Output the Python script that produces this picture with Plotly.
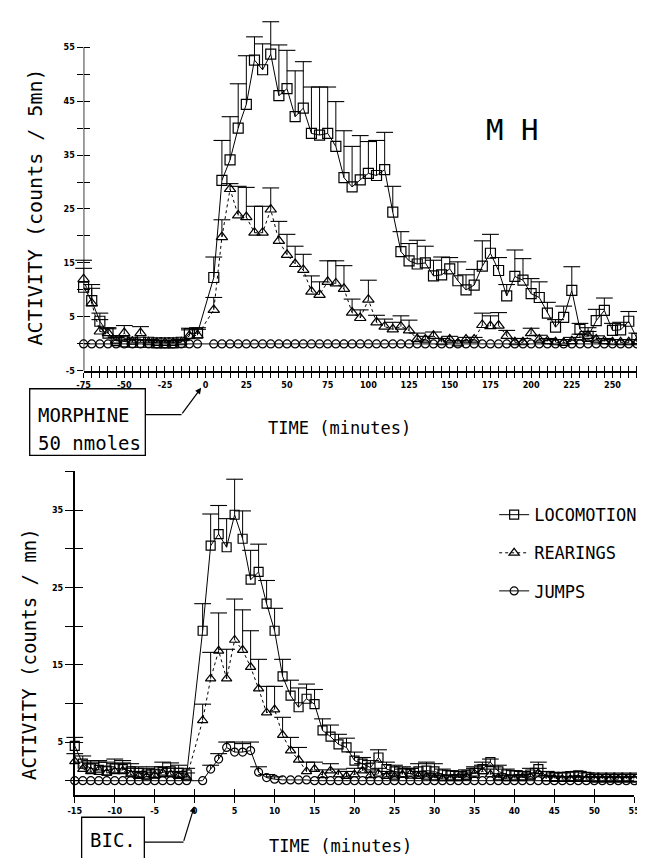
import numpy as np
import plotly.graph_objects as go

W, H = 645, 858
MONO = "DejaVu Sans Mono"
TICKFONT = dict(family="DejaVu Sans Condensed, DejaVu Sans", size=9, color="black", weight="bold")

# ---------------- upper panel: morphine 50 nmoles (counts / 5 mn) ----------------
top_time = [-75, -70, -65, -60, -55, -50, -45, -40, -35, -30, -25, -20, -15, -10, -5] + list(range(5, 275, 5))

top_loc = [10.5, 8.0, 4.2, 2.0, 0.6, 0.4, 0.3, 0.3, 0.3, 0.2, 0.2, 0.2, 0.3, 1.9, 2.0,
           12.3, 30.3, 34.1, 40.0, 44.4, 52.6, 50.8, 53.7, 46.0, 47.3,
           42.1, 43.7, 39.0, 38.7, 39.0, 36.6, 30.8, 29.1, 30.4, 31.6,
           31.2, 32.3, 24.4, 17.1, 15.4, 14.8, 15.0, 12.6, 12.8, 13.9,
           11.7, 10.0, 10.9, 14.4, 16.8, 13.6, 8.9, 12.5, 11.8, 9.3,
           8.6, 5.7, 3.1, 4.9, 9.9, 2.7, 1.4, 4.3, 6.2, 2.5,
           2.6, 4.2, 1.0, 0.5]
top_loc_upper = [14.0, 11.0, 5.7, 3.0, 1.3, 0.9, 0.8, 0.8, 0.8, 0.6, 0.6, 0.6, 0.8, 2.9, 3.0,
                 16.1, 37.7, 42.1, 48.2, 53.4, 56.9, 55.6, 59.7, 55.4, 54.4,
                 50.6, 52.3, 47.6, 47.6, 47.6, 44.9, 39.5, 36.6, 38.6, 37.5,
                 37.7, 39.2, 29.2, 20.8, 18.6, 19.2, 18.1, 15.5, 16.1, 16.0,
                 15.2, 12.8, 13.8, 19.1, 20.3, 16.0, 11.0, 17.4, 15.8, 12.1,
                 11.5, 7.7, 4.5, 7.0, 14.3, 3.8, 3.0, 6.4, 8.5, 3.8,
                 4.0, 6.0, 2.0, 1.5]
top_rear = [12.0, 7.5, 2.3, 2.0, 0.6, 2.0, 0.4, 2.0, 0.3, 0.2, 0.2, 0.2, 0.3, 1.5, 1.6,
            6.3, 19.8, 28.7, 23.8, 23.5, 20.6, 20.6, 24.9, 19.1, 16.5,
            14.8, 13.7, 9.7, 9.1, 11.5, 11.2, 10.2, 5.8, 4.8, 8.2,
            4.0, 3.2, 2.7, 3.2, 2.5, 0.9, 0.8, 1.5, 0.3, 0.8,
            0.1, 0.8, 0.8, 3.5, 3.3, 3.4, 1.5, 0.3, 0.3, 2.0,
            0.8, 0.5, 0.3, 0.2, 0.5, 1.2, 1.5, 0.8, 0.5, 0.3,
            0.3, 0.3, 0.3, 0.3]
top_rear_upper = [15.5, 10.3, 4.5, 2.8, 1.2, 3.4, 0.9, 3.2, 0.7, 0.6, 0.6, 0.6, 0.6, 2.6, 2.7,
                  8.6, 23.0, 29.7, 29.2, 29.0, 25.5, 25.5, 28.9, 22.7, 20.3,
                  18.1, 16.6, 12.6, 11.5, 15.4, 15.4, 14.5, 8.3, 6.3, 11.8,
                  5.3, 4.6, 4.0, 5.2, 4.4, 2.0, 1.4, 2.2, 1.0, 1.4,
                  0.6, 1.2, 1.2, 5.7, 5.2, 5.8, 2.5, 1.0, 1.0, 2.9,
                  1.6, 1.0, 0.8, 0.8, 1.2, 1.8, 2.3, 1.5, 1.0, 0.8,
                  0.8, 0.8, 0.8, 0.8]
top_jump = [0.0, 0.0, 0.0, 0.0, 0.0, 0.0, 0.0, 0.0, 0.0, 0.0, 0.0, 0.0, 0.0, 0.0, 0.0,
            0.0, 0.0, 0.0, 0.0, 0.0, 0.0, 0.0, 0.0, 0.0, 0.0,
            0.0, 0.0, 0.0, 0.0, 0.0, 0.0, 0.0, 0.0, 0.0, 0.0,
            0.0, 0.0, 0.0, 0.0, 0.0, 0.0, 0.0, 0.0, 0.0, 0.0,
            0.0, 0.0, 0.0, 0.0, 0.0, 0.0, 0.0, 0.0, 0.0, 0.0,
            0.0, 0.0, 0.0, 0.0, 0.0, 0.0, 0.0, 0.0, 0.0, 0.0,
            0.0, 0.0, 0.0, 0.0]

top_yticks = [-5, 0, 5, 10, 15, 20, 25, 30, 35, 40, 45, 50, 55]
top_ylabels = ["-5", "", "5", "", "15", "", "25", "", "35", "", "45", "", "55"]
top_xticks = list(range(-75, 271, 5))
top_xlabel_vals = [-75, -50, -25, 0, 25, 50, 75, 100, 125, 150, 175, 200, 225, 250]

# ---------------- lower panel: bicuculline (counts / mn) ----------------
bot_time = list(range(-15, 0)) + list(range(1, 56))

bot_loc = [4.5, 2.2, 1.6, 1.4, 1.3, 1.6, 1.5, 1.2, 1.0, 0.8, 0.9, 1.1, 1.2, 1.0, 0.8,
           19.4, 30.4, 31.9, 30.2, 34.4, 31.3, 26.0, 27.0, 22.9, 19.4,
           13.5, 11.0, 9.5, 10.6, 9.9, 6.5, 5.7, 4.7, 4.3, 2.6,
           2.2, 1.7, 3.0, 1.5, 1.2, 1.0, 0.9, 1.2, 1.3, 1.2,
           0.8, 0.7, 0.6, 0.7, 1.0, 1.5, 2.4, 1.2, 0.8, 0.7,
           0.6, 0.8, 1.5, 0.6, 0.5, 0.5, 0.6, 0.7, 0.5, 0.4,
           0.4, 0.4, 0.4, 0.4, 0.4]
bot_loc_upper = [5.6, 3.2, 2.6, 2.6, 2.4, 2.8, 2.6, 2.2, 1.8, 1.6, 1.8, 2.4, 2.3, 2.0, 1.6,
                 22.9, 34.5, 35.6, 33.9, 39.0, 34.9, 29.8, 30.6, 25.9, 22.3,
                 15.7, 13.0, 12.0, 12.5, 11.8, 8.0, 7.2, 6.0, 5.5, 3.7,
                 3.0, 2.6, 4.0, 2.4, 2.0, 1.8, 1.6, 2.2, 2.4, 2.2,
                 1.5, 1.3, 1.2, 1.4, 1.8, 2.4, 2.8, 2.0, 1.5, 1.3,
                 1.2, 1.6, 2.4, 1.2, 1.0, 1.0, 1.1, 1.2, 1.0, 0.8,
                 0.8, 0.8, 0.8, 0.8, 0.8]
bot_rear = [2.5, 1.5, 1.2, 1.4, 1.0, 1.2, 1.3, 0.8, 0.6, 0.5, 0.7, 1.0, 0.8, 0.6, 0.4,
            7.8, 13.2, 16.8, 13.2, 18.2, 16.9, 14.7, 11.9, 8.8, 9.2,
            5.9, 3.9, 2.7, 1.2, 1.5, 0.7, 1.3, 0.8, 0.6, 0.8,
            1.3, 0.7, 0.9, 0.6, 0.5, 0.8, 0.9, 0.6, 0.5, 0.4,
            0.3, 0.3, 0.4, 0.5, 0.9, 1.2, 0.8, 0.4, 0.3, 0.3,
            0.4, 0.5, 0.9, 0.3, 0.3, 0.2, 0.2, 0.2, 0.2, 0.2,
            0.2, 0.2, 0.2, 0.2, 0.2]
bot_rear_upper = [3.5, 2.4, 2.2, 2.4, 1.8, 2.2, 2.3, 1.6, 1.2, 1.1, 1.4, 1.8, 1.6, 1.2, 1.0,
                  9.9, 16.6, 21.7, 17.0, 23.5, 22.1, 19.4, 15.7, 12.2, 12.2,
                  8.2, 5.6, 4.3, 2.4, 2.4, 1.4, 2.2, 1.5, 1.2, 1.6,
                  2.2, 1.4, 1.6, 1.2, 1.0, 1.5, 1.6, 1.2, 1.0, 0.9,
                  0.7, 0.7, 0.8, 1.0, 1.6, 2.0, 1.5, 0.9, 0.7, 0.7,
                  0.8, 1.0, 1.6, 0.7, 0.6, 0.5, 0.5, 0.5, 0.5, 0.5,
                  0.5, 0.5, 0.5, 0.5, 0.5]
bot_jump = [0.0, 0.0, 0.0, 0.0, 0.0, 0.0, 0.0, 0.0, 0.0, 0.0, 0.0, 0.0, 0.0, 0.0, 0.0,
            0.0, 1.5, 2.8, 4.3, 3.7, 3.7, 3.9, 1.1, 0.4, 0.2,
            0.1, 0.1, 0.1, 0.1, 0.0, 0.0, 0.0, 0.0, 0.0, 0.0,
            0.0, 0.0, 0.0, 0.0, 0.0, 0.0, 0.0, 0.0, 0.0, 0.0,
            0.0, 0.0, 0.0, 0.0, 0.0, 0.0, 0.0, 0.0, 0.0, 0.0,
            0.0, 0.0, 0.0, 0.0, 0.0, 0.0, 0.0, 0.0, 0.0, 0.0,
            0.0, 0.0, 0.0, 0.0, 0.0]
bot_jump_upper = [0.0, 0.0, 0.0, 0.0, 0.0, 0.0, 0.0, 0.0, 0.0, 0.0, 0.0, 0.0, 0.0, 0.0, 0.0,
                  0.0, 2.0, 3.5, 5.0, 5.0, 4.8, 5.0, 1.8, 0.8, 0.5,
                  0.1, 0.1, 0.1, 0.1, 0.0, 0.0, 0.0, 0.0, 0.0, 0.0,
                  0.0, 0.0, 0.0, 0.0, 0.0, 0.0, 0.0, 0.0, 0.0, 0.0,
                  0.0, 0.0, 0.0, 0.0, 0.0, 0.0, 0.0, 0.0, 0.0, 0.0,
                  0.0, 0.0, 0.0, 0.0, 0.0, 0.0, 0.0, 0.0, 0.0, 0.0,
                  0.0, 0.0, 0.0, 0.0, 0.0]

bot_yticks = [0, 5, 10, 15, 20, 25, 30, 35, 40]
bot_ylabels = ["", "5", "", "15", "", "25", "", "35", ""]
bot_xticks = list(range(-15, 56, 5))

series_names = ["LOCOMOTION", "REARINGS", "JUMPS"]


def px(x):
    return x / W


def py(y):
    return 1 - y / H


fig = go.Figure()


def add_series(t, v, upper, symbol, dash, size, xa, ya, name, showlegend, rank):
    t = np.asarray(t, float)
    v = np.asarray(v, float)
    up = np.asarray(upper, float)
    err = np.clip(up - v, 0, None)
    fig.add_trace(go.Scatter(
        x=t, y=v, mode="lines+markers", name=name, legendgroup=name,
        legendrank=rank, showlegend=showlegend, xaxis=xa, yaxis=ya, cliponaxis=False,
        line=dict(color="black", width=1, dash=dash),
        marker=dict(symbol=symbol, size=size, color="black",
                    line=dict(color="black", width=1.2)),
        error_y=dict(type="data", symmetric=False, array=err,
                     arrayminus=np.zeros_like(err), width=0,
                     thickness=1, color="black"),
        hoverinfo="skip"))
    m = err > 0.25
    if m.any():
        fig.add_trace(go.Scatter(
            x=t[m], y=up[m], mode="markers", showlegend=False,
            xaxis=xa, yaxis=ya, cliponaxis=False,
            marker=dict(symbol="line-ew", size=12, color="black",
                        line=dict(color="black", width=1.1)),
            hoverinfo="skip"))


# upper panel
add_series(top_time, top_jump, top_jump, "circle-open", "solid", 8, "x", "y", "JUMPS", False, 3)
add_series(top_time, top_rear, top_rear_upper, "triangle-up-open", "dot", 10, "x", "y", "REARINGS", False, 2)
add_series(top_time, top_loc, top_loc_upper, "square-open", "solid", 10, "x", "y", "LOCOMOTION", False, 1)

# lower panel
add_series(bot_time, bot_jump, bot_jump_upper, "circle-open", "solid", 8, "x2", "y2", "JUMPS", True, 3)
add_series(bot_time, bot_rear, bot_rear_upper, "triangle-up-open", "dot", 9, "x2", "y2", "REARINGS", True, 2)
add_series(bot_time, bot_loc, bot_loc_upper, "square-open", "solid", 9, "x2", "y2", "LOCOMOTION", True, 1)

# empty traces to activate overlay axes (used for the crossing "inside" half of the ticks)
fig.add_trace(go.Scatter(x=[], y=[], xaxis="x3", yaxis="y3", showlegend=False, hoverinfo="skip"))
fig.add_trace(go.Scatter(x=[], y=[], xaxis="x4", yaxis="y4", showlegend=False, hoverinfo="skip"))

top_xdom = [px(70), px(643)]
top_ydom = [py(365), py(6.75)]
top_yrange = [-5, 61]
bot_xdom = [px(61), px(632)]
bot_ydom = [py(792), py(466.2)]
bot_yrange = [-1.9, 40]

top_xlabels = [str(v) if v in top_xlabel_vals else "" for v in top_xticks]
bot_xlabels = [str(v) for v in bot_xticks]

common = dict(showgrid=False, zeroline=False, tickcolor="black", tickwidth=1.3,
              tickfont=TICKFONT, linecolor="black", linewidth=1.5)

fig.update_layout(
    width=W, height=H, margin=dict(l=0, r=0, t=0, b=0),
    paper_bgcolor="white", plot_bgcolor="white",
    font=dict(family=MONO, color="black"),
    xaxis=dict(domain=top_xdom, range=[-75, 270], anchor="y", showline=True,
               ticks="outside", ticklen=5, tickmode="array",
               tickvals=top_xticks, ticktext=top_xlabels, **common),
    yaxis=dict(domain=top_ydom, range=top_yrange, anchor="x", showline=False,
               ticks="outside", ticklen=6, tickmode="array",
               tickvals=top_yticks, ticktext=top_ylabels, **common),
    xaxis3=dict(overlaying="x", range=[-75, 270], anchor="y3", showline=False,
                ticks="inside", ticklen=5, tickmode="array", tickvals=top_xticks,
                showticklabels=False, **common),
    yaxis3=dict(overlaying="y", range=top_yrange, anchor="x3", showline=False,
                ticks="inside", ticklen=6, tickmode="array", tickvals=top_yticks,
                showticklabels=False, **common),
    xaxis2=dict(domain=bot_xdom, range=[-15, 55], anchor="y2", showline=True,
                ticks="outside", ticklen=6, tickmode="array",
                tickvals=bot_xticks, ticktext=bot_xlabels, **common),
    yaxis2=dict(domain=bot_ydom, range=bot_yrange, anchor="x2", showline=True,
                ticks="outside", ticklen=8, tickmode="array",
                tickvals=bot_yticks, ticktext=bot_ylabels, **common),
    xaxis4=dict(overlaying="x2", range=[-15, 55], anchor="y4", showline=False,
                ticks="inside", ticklen=6, tickmode="array", tickvals=bot_xticks,
                showticklabels=False, **common),
    yaxis4=dict(overlaying="y2", range=bot_yrange, anchor="x4", showline=False,
                ticks="inside", ticklen=8, tickmode="array", tickvals=bot_yticks,
                showticklabels=False, **common),
    legend=dict(x=px(489), y=py(492), xanchor="left", yanchor="top",
                font=dict(family=MONO, size=17, color="black"),
                bgcolor="rgba(0,0,0,0)", tracegroupgap=13, itemwidth=30,
                traceorder="grouped"),
    showlegend=True,
)

# upper y-axis line stops at 55
fig.add_shape(type="line", xref="x", yref="y", x0=-75, x1=-75, y0=-5, y1=55,
              line=dict(color="black", width=1.5))


def note(x, y, text, size, **kw):
    d = dict(x=px(x), y=py(y), xref="paper", yref="paper", text=text,
             showarrow=False, font=dict(family=MONO, size=size, color="black"),
             xanchor="center", yanchor="middle")
    d.update(kw)
    return d


ann = [
    note(507, 123, "M H", 29),
    note(20, 200, "ACTIVITY (counts / 5mn)", 20, textangle=-90),
    note(331, 422, "TIME (minutes)", 17),
    note(21, 409, "MORPHINE", 19, xanchor="left"),
    note(21, 438, "50 nmoles", 19, xanchor="left"),
    note(15, 650, "ACTIVITY (counts / mn)", 19, textangle=-90),
    note(332, 843, "TIME (minutes)", 17),
    note(100, 837, "BIC.", 19),
    dict(x=px(190), y=py(382), xref="paper", yref="paper", text="", showarrow=True,
         arrowhead=2, arrowsize=1, arrowwidth=1.2, arrowcolor="black", ax=-20, ay=27),
    dict(x=px(183), y=py(803), xref="paper", yref="paper", text="", showarrow=True,
         arrowhead=2, arrowsize=1, arrowwidth=1.2, arrowcolor="black", ax=-11, ay=36),
]
fig.update_layout(annotations=ann)

# boxes and connector lines (paper coordinates)
fig.add_shape(type="rect", xref="paper", yref="paper", x0=px(15), x1=px(133),
              y0=py(450), y1=py(383), line=dict(color="black", width=1.3))
fig.add_shape(type="line", xref="paper", yref="paper", x0=px(133), x1=px(170),
              y0=py(409), y1=py(409), line=dict(color="black", width=1.2))
fig.add_shape(type="rect", xref="paper", yref="paper", x0=px(68), x1=px(132),
              y0=py(856), y1=py(814), line=dict(color="black", width=1.3))
fig.add_shape(type="line", xref="paper", yref="paper", x0=px(132), x1=px(172),
              y0=py(839), y1=py(839), line=dict(color="black", width=1.2))

fig.write_html("out.html")
